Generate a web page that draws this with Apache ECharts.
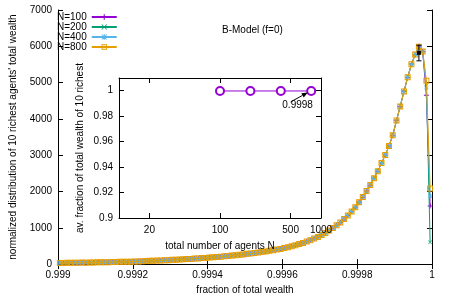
<!DOCTYPE html>
<html><head><meta charset="utf-8">
<script src="https://cdn.jsdelivr.net/npm/echarts@6/dist/echarts.min.js"></script>
<style>html,body{margin:0;padding:0;background:#fff}#c{width:450px;height:300px}</style>
</head><body><div id="c"></div>
<script>
// bin centres (fraction of total wealth)
var xs = [0.999005,0.999015,0.999025,0.999035,0.999045,0.999055,0.999065,0.999075,0.999085,0.999095,
0.999105,0.999115,0.999125,0.999135,0.999145,0.999155,0.999165,0.999175,0.999185,0.999195,
0.999205,0.999215,0.999225,0.999235,0.999245,0.999255,0.999265,0.999275,0.999285,0.999295,
0.999305,0.999315,0.999325,0.999335,0.999345,0.999355,0.999365,0.999375,0.999385,0.999395,
0.999405,0.999415,0.999425,0.999435,0.999445,0.999455,0.999465,0.999475,0.999485,0.999495,
0.999505,0.999515,0.999525,0.999535,0.999545,0.999555,0.999565,0.999575,0.999585,0.999595,
0.999605,0.999615,0.999625,0.999635,0.999645,0.999655,0.999665,0.999675,0.999685,0.999695,
0.999705,0.999715,0.999725,0.999735,0.999745,0.999755,0.999765,0.999775,0.999785,0.999795,
0.999805,0.999815,0.999825,0.999835,0.999845,0.999855,0.999865,0.999875,0.999885,0.999895,
0.999905,0.999915,0.999925,0.999935,0.999945,0.999955,0.999965,0.999975,0.999985,0.999995];

var n100 = [31,32,34,35,37,38,39,42,43,46,
47,50,51,54,55,57,61,63,65,70,
72,76,78,84,86,92,95,101,104,111,
116,119,127,131,139,145,149,158,163,173,
181,187,197,204,215,223,235,244,257,267,
281,292,307,319,336,349,367,382,401,419,
441,464,493,519,551,584,621,659,706,749,
801,859,926,994,1071,1149,1241,1339,1451,1569,
1705,1845,2015,2175,2365,2555,2785,3005,3255,3545,
3960,4340,4760,5140,5510,5770,6000,5860,4650,1600];

var n200 = [29,33,32,36,35,39,40,42,44,44,
48,48,52,52,56,59,59,64,65,70,
71,76,78,82,88,90,96,99,106,109,
116,121,125,133,137,145,151,156,165,171,
181,189,195,206,213,225,233,246,255,269,
279,294,305,321,334,351,365,384,399,421,
439,466,491,521,549,586,619,661,704,751,
799,861,924,996,1069,1151,1239,1341,1449,1571,
1695,1855,2005,2185,2355,2565,2775,3015,3245,3555,
3940,4360,4740,5160,5490,5790,5990,5870,4970,600];

var n400 = [30,31,33,34,36,37,40,41,42,45,
46,49,50,53,54,58,60,62,66,68,
72,74,79,82,87,90,95,100,104,110,
114,120,125,132,137,144,149,157,163,172,
179,188,195,205,213,224,233,245,255,268,
279,293,305,320,334,350,365,383,399,420,
439,465,491,520,549,585,619,660,704,750,
799,860,924,995,1069,1150,1239,1340,1449,1570,
1698,1850,2008,2180,2358,2560,2778,3010,3248,3550,
3945,4350,4745,5150,5495,5780,5975,5850,4850,1870];

var n800 = [32,31,35,34,38,37,41,40,45,44,
49,48,53,52,57,57,62,62,68,68,
74,74,81,82,89,90,97,99,107,109,
117,119,128,131,140,143,152,156,166,171,
182,187,198,204,216,223,236,244,258,267,
282,292,308,319,337,349,368,382,402,419,
442,464,494,519,552,584,622,659,707,749,
802,859,927,994,1072,1149,1242,1339,1452,1569,
1702,1848,2012,2178,2362,2558,2782,3008,3252,3548,
3955,4345,4755,5145,5505,5775,5985,5855,5050,2080];

// error bar at the peak: [x, mean, low, high]
var peakErr = [[0.999965, 5820, 5600, 6030]];

// inset
var insetN = [100, 200, 400, 800];
var insetFrac = [0.9998, 0.9998, 0.9998, 0.9998];
var insetXTicks = [20, 100, 500, 1000];
var insetYTicks = [0.9, 0.92, 0.94, 0.96, 0.98, 1];
// annotation: arrow from (N, frac) to (N, frac), label text
var insetNote = [[500, 0.9912, 740, 0.9986, '0.9998']];

var seriesNames = ['N=100', 'N=200', 'N=400', 'N=800'];
var seriesColors = ['#9400d3', '#009e73', '#56b4e9', '#e69f00'];

var FONT = 'Liberation Sans';
var PLUS = 'path://M4,0H6V4H10V6H6V10H4V6H0V4H4Z';
var CROSS = 'path://M1,0L5,4L9,0L10,1L6,5L10,9L9,10L5,6L1,10L0,9L4,5L0,1Z';
var STAR = 'path://M4,0H6V4H10V6H6V10H4V6H0V4H4Z M1,0L5,4L9,0L10,1L6,5L10,9L9,10L5,6L1,10L0,9L4,5L0,1Z';
var OSQ = 'path://M0,0H10V10H0Z M1.7,1.7V8.3H8.3V1.7Z';
var symbols = [PLUS, CROSS, STAR, OSQ];
var symSizes = [5, 4, 4, 6];

function pairs(ys) { return xs.map(function (x, i) { return [x, ys[i]]; }); }
var allY = [n100, n200, n400, n800];

var axLine = { show: true, lineStyle: { color: '#000', width: 1 } };
var tickIn = { show: true, inside: true, length: 5, lineStyle: { color: '#000' } };
var lblStyle = { color: '#000', fontFamily: FONT, fontSize: 10 };

var series = allY.map(function (ys, k) {
  return {
    type: 'line', name: seriesNames[k], xAxisIndex: 0, yAxisIndex: 0,
    data: pairs(ys), symbol: symbols[k], symbolSize: symSizes[k],
    showAllSymbol: true,
    lineStyle: { color: seriesColors[k], width: 1 },
    itemStyle: { color: seriesColors[k], borderWidth: 0 },
    emphasis: { disabled: true }, animation: false, z: 2 + k
  };
});

series.push({
  type: 'custom', xAxisIndex: 0, yAxisIndex: 0, data: peakErr, z: 10, animation: false,
  renderItem: function (params, api) {
    var x = api.value(0);
    var m = api.coord([x, api.value(1)]);
    var lo = api.coord([x, api.value(2)]);
    var hi = api.coord([x, api.value(3)]);
    var s = { stroke: '#000', lineWidth: 1 };
    return { type: 'group', children: [
      { type: 'line', shape: { x1: lo[0], y1: lo[1], x2: hi[0], y2: hi[1] }, style: s },
      { type: 'line', shape: { x1: lo[0] - 2.5, y1: lo[1], x2: lo[0] + 2.5, y2: lo[1] }, style: s },
      { type: 'line', shape: { x1: hi[0] - 2.5, y1: hi[1], x2: hi[0] + 2.5, y2: hi[1] }, style: s },
      { type: 'rect', shape: { x: m[0] - 2, y: m[1] - 2, width: 4, height: 4 }, style: { fill: '#000' } }
    ] };
  }
});

series.push({
  type: 'line', name: 'inset', xAxisIndex: 2, yAxisIndex: 2,
  data: insetN.map(function (n, i) { return [n, insetFrac[i]]; }),
  symbol: 'emptyCircle', symbolSize: 8,
  lineStyle: { color: '#9400d3', width: 1 },
  itemStyle: { color: '#9400d3', borderColor: '#9400d3', borderWidth: 1 },
  emphasis: { disabled: true }, animation: false, z: 20
});

series.push({
  type: 'custom', xAxisIndex: 2, yAxisIndex: 2, data: insetNote, z: 21, animation: false, clip: false,
  renderItem: function (params, api) {
    var a = api.coord([api.value(0), api.value(1)]);
    var b = api.coord([api.value(2), api.value(3)]);
    var dx = b[0] - a[0], dy = b[1] - a[1];
    var L = Math.sqrt(dx * dx + dy * dy); var ux = dx / L, uy = dy / L;
    var hl = 6, hw = 2.5;
    var bx = b[0] - ux * hl, by = b[1] - uy * hl;
    return { type: 'group', children: [
      { type: 'line', shape: { x1: a[0], y1: a[1], x2: bx, y2: by }, style: { stroke: '#000', lineWidth: 1 } },
      { type: 'polygon', shape: { points: [[b[0], b[1]], [bx - uy * hw, by + ux * hw], [bx + uy * hw, by - ux * hw]] }, style: { fill: '#000' } },
      { type: 'text', x: a[0] + 7, y: a[1] - 2, style: { text: insetNote[params.dataIndex][4], fill: '#000', font: '10px "Liberation Sans"', align: 'center', verticalAlign: 'top' } }
    ] };
  }
});

var chart = echarts.init(document.getElementById('c'), null, { renderer: 'canvas' });
chart.setOption({
  backgroundColor: '#fff',
  animation: false,
  textStyle: { fontFamily: FONT },
  legend: {
    data: seriesNames, orient: 'vertical', left: 52, top: 7, align: 'right',
    itemGap: 0, itemWidth: 25, itemHeight: 7,
    textStyle: { color: '#000', fontFamily: FONT, fontSize: 10, lineHeight: 9.5 },
    selectedMode: false
  },
  graphic: [{
    type: 'text', left: 222, top: 25, z: 100,
    style: { text: 'B-Model (f=0)', fill: '#000', font: '10px "Liberation Sans"' }
  }],
  grid: [
    { left: 51, right: 18, top: 10, bottom: 31, containLabel: false },
    { left: 119, right: 129, top: 78, bottom: 82, containLabel: false, show: true, backgroundColor: '#fff', borderWidth: 0, z: 15 }
  ],
  xAxis: [
    { gridIndex: 0, type: 'value', min: 0.999, max: 1, interval: 0.0002,
      axisLine: axLine, axisTick: tickIn, splitLine: { show: false },
      axisLabel: Object.assign({ margin: 6, formatter: function (v) { return String(parseFloat(v.toFixed(4))); } }, lblStyle),
      name: 'fraction of total wealth', nameLocation: 'middle', nameGap: 20,
      nameTextStyle: lblStyle },
    { gridIndex: 0, type: 'value', position: 'top', min: 0.999, max: 1, interval: 0.0002,
      axisLine: axLine, axisTick: tickIn, splitLine: { show: false }, axisLabel: { show: false } },
    { gridIndex: 1, type: 'log', logBase: 10, min: 10, max: 1000, z: 16,
      axisLine: axLine, axisTick: Object.assign({ customValues: [20, 100, 500] }, tickIn),
      minorTick: { show: false }, splitLine: { show: false },
      axisLabel: Object.assign({ margin: 7, customValues: insetXTicks, formatter: function (v) { return String(v); } }, lblStyle),
      name: 'total number of agents N', nameLocation: 'middle', nameGap: 23, nameTextStyle: lblStyle },
    { gridIndex: 1, type: 'log', logBase: 10, min: 10, max: 1000, position: 'top', z: 16,
      axisLine: axLine, axisTick: Object.assign({ customValues: [20, 100, 500] }, tickIn),
      splitLine: { show: false }, axisLabel: { show: false } }
  ],
  yAxis: [
    { gridIndex: 0, type: 'value', min: 0, max: 7000, interval: 1000,
      axisLine: axLine, axisTick: tickIn, splitLine: { show: false },
      axisLabel: Object.assign({ margin: 6, formatter: function (v) { return String(v); } }, lblStyle),
      name: "normalized distribution of 10 richest agents' total wealth", nameLocation: 'middle', nameGap: 40,
      nameTextStyle: lblStyle },
    { gridIndex: 0, type: 'value', position: 'right', min: 0, max: 7000, interval: 1000,
      axisLine: axLine, axisTick: tickIn, splitLine: { show: false }, axisLabel: { show: false } },
    { gridIndex: 1, type: 'value', min: 0.9, max: 1.01, interval: 0.02, z: 16,
      axisLine: axLine, axisTick: Object.assign({ customValues: insetYTicks }, tickIn), splitLine: { show: false },
      axisLabel: Object.assign({ margin: 6, customValues: insetYTicks, formatter: function (v) { return String(parseFloat(v.toFixed(2))); } }, lblStyle),
      name: 'av. fraction of total wealth of 10 richest', nameLocation: 'middle', nameGap: 34,
      nameTextStyle: lblStyle },
    { gridIndex: 1, type: 'value', position: 'right', min: 0.9, max: 1.01, interval: 0.02, z: 16,
      axisLine: axLine, axisTick: Object.assign({ customValues: insetYTicks }, tickIn), splitLine: { show: false },
      axisLabel: { show: false } }
  ],
  series: series
});
</script></body></html>
